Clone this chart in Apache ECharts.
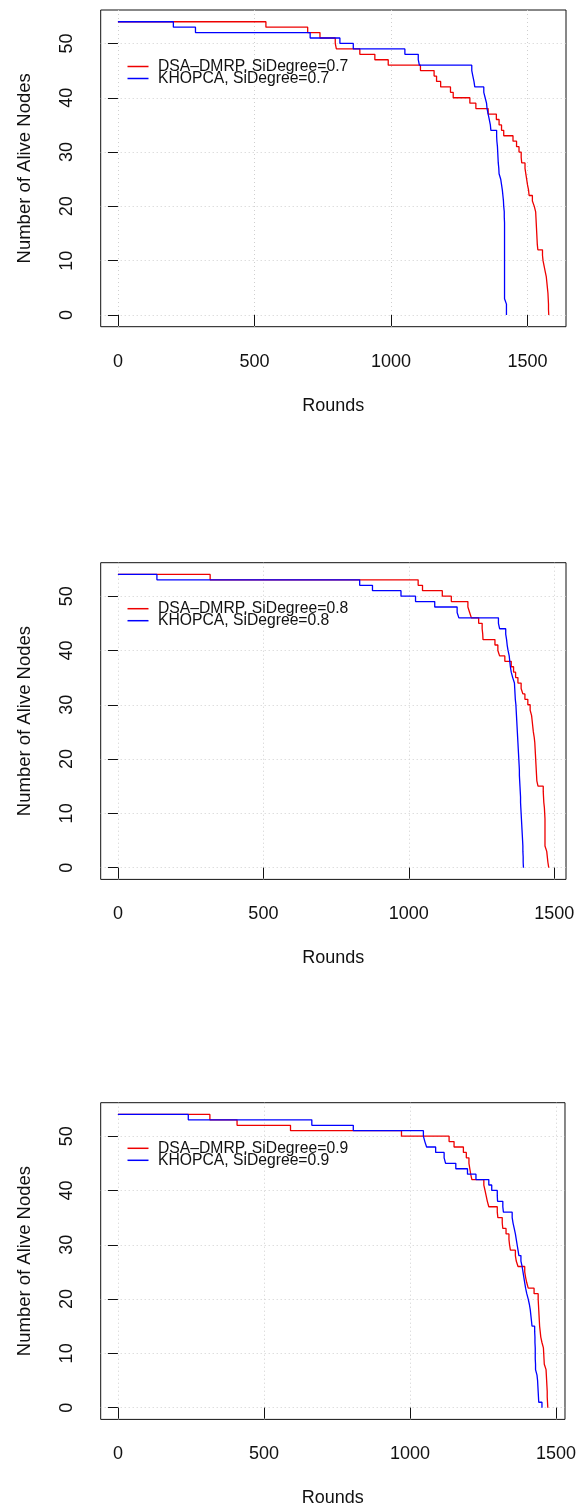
<!DOCTYPE html>
<html>
<head>
<meta charset="utf-8">
<script src="https://cdn.jsdelivr.net/npm/echarts@6/dist/echarts.min.js"></script>
<style>
html,body{margin:0;padding:0;background:#fff;}
#chart{width:579px;height:1510px;}
</style>
</head>
<body>
<div id="chart"></div>
<script>
// ---------- data: [round, number of alive nodes] ----------
const dsa07 = [[0,54],[542,53],[695,52],[740,51],[796,50],[800,49],[886,48],[941,47],[990,46],[1108,45],[1158,44],[1167,43],[1182,42],[1218,41],[1228,40],[1289,39],[1311,38],[1356,37],[1386,36],[1396,35],[1405,34],[1413,33],[1447,32],[1460,31],[1469,30],[1477,29],[1479,28],[1491,27],[1494,26],[1497,25],[1500,24],[1504,23],[1506,22],[1518,21],[1525,20],[1530,19],[1531,18],[1532,17],[1533,16],[1534,15],[1535,14],[1536,13],[1538,12],[1555,11],[1557,10],[1561,9],[1565,8],[1569,7],[1571,6],[1573,5],[1575,4],[1576,3],[1577,2],[1577,1],[1578,0]];
const khopca07 = [[0,54],[203,53],[284,52],[704,51],[813,50],[862,49],[1051,48],[1100,47],[1104,46],[1296,45],[1300,44],[1304,43],[1307,42],[1340,41],[1345,40],[1350,39],[1352,38],[1356,37],[1360,36],[1364,35],[1366,34],[1387,33],[1388,32],[1390,31],[1391,30],[1392,29],[1393,28],[1395,27],[1396,26],[1402,25],[1405,24],[1408,23],[1410,22],[1412,21],[1413,20],[1415,19],[1415,18],[1416,17],[1416,16],[1416,15],[1416,14],[1416,13],[1416,12],[1416,11],[1416,10],[1416,9],[1416,8],[1416,7],[1416,6],[1416,5],[1416,4],[1416,3],[1423,2],[1423,1],[1423,0]];

const dsa08 = [[0,54],[317,53],[1032,52],[1047,51],[1115,50],[1146,49],[1203,48],[1209,47],[1215,46],[1240,45],[1252,44],[1254,43],[1255,42],[1296,41],[1306,40],[1312,39],[1330,38],[1352,37],[1360,36],[1367,35],[1375,34],[1386,33],[1392,32],[1399,31],[1409,30],[1417,29],[1422,28],[1424,27],[1426,26],[1428,25],[1431,24],[1433,23],[1434,22],[1435,21],[1436,20],[1437,19],[1438,18],[1439,17],[1440,16],[1444,15],[1462,14],[1463,13],[1464,12],[1466,11],[1467,10],[1468,9],[1468,8],[1468,7],[1468,6],[1468,5],[1468,4],[1474,3],[1476,2],[1478,1],[1481,0]];
const khopca08 = [[0,54],[134,53],[831,52],[875,51],[973,50],[1023,49],[1089,48],[1166,47],[1172,46],[1308,45],[1312,44],[1333,43],[1336,42],[1338,41],[1341,40],[1345,39],[1347,38],[1349,37],[1352,36],[1357,35],[1363,34],[1364,33],[1365,32],[1366,31],[1368,30],[1369,29],[1370,28],[1371,27],[1372,26],[1373,25],[1374,24],[1375,23],[1376,22],[1377,21],[1378,20],[1379,19],[1380,18],[1380,17],[1381,16],[1382,15],[1383,14],[1384,13],[1384,12],[1385,11],[1386,10],[1387,9],[1388,8],[1389,7],[1390,6],[1391,5],[1392,4],[1392,3],[1393,2],[1393,1],[1394,0]];

const dsa09 = [[0,54],[315,53],[408,52],[591,51],[971,50],[1134,49],[1151,48],[1183,47],[1193,46],[1202,45],[1205,44],[1208,43],[1212,42],[1253,41],[1257,40],[1261,39],[1265,38],[1270,37],[1299,36],[1301,35],[1316,34],[1318,33],[1329,32],[1339,31],[1341,30],[1344,29],[1361,28],[1364,27],[1370,26],[1393,25],[1396,24],[1400,23],[1405,22],[1425,21],[1439,20],[1440,19],[1441,18],[1442,17],[1443,16],[1444,15],[1446,14],[1448,13],[1452,12],[1457,11],[1458,10],[1459,9],[1460,8],[1466,7],[1467,6],[1468,5],[1469,4],[1470,3],[1470,2],[1471,1],[1472,0]];
const khopca09 = [[0,54],[241,53],[664,52],[806,51],[1046,50],[1051,49],[1057,48],[1088,47],[1117,46],[1122,45],[1157,44],[1197,43],[1226,42],[1270,41],[1280,40],[1299,39],[1300,38],[1318,37],[1320,36],[1350,35],[1353,34],[1357,33],[1361,32],[1364,31],[1367,30],[1370,29],[1373,28],[1380,27],[1384,26],[1387,25],[1390,24],[1393,23],[1396,22],[1400,21],[1405,20],[1409,19],[1412,18],[1414,17],[1416,16],[1418,15],[1427,14],[1428,13],[1428,12],[1429,11],[1429,10],[1429,9],[1430,8],[1430,7],[1435,6],[1437,5],[1438,4],[1439,3],[1440,2],[1441,1],[1452,0]];

const xTicks = [0, 500, 1000, 1500];
const yTicks = [0, 10, 20, 30, 40, 50];
const panelNames = [
  ['DSA\u2013DMRP, SiDegree=0.7', 'KHOPCA, SiDegree=0.7'],
  ['DSA\u2013DMRP, SiDegree=0.8', 'KHOPCA, SiDegree=0.8'],
  ['DSA\u2013DMRP, SiDegree=0.9', 'KHOPCA, SiDegree=0.9']
];
const panelData = [[dsa07, khopca07], [dsa08, khopca08], [dsa09, khopca09]];
const xTitle = 'Rounds';
const yTitle = 'Number of Alive Nodes';

// ---------- layout ----------
const FONT = '"Liberation Sans", Arial, Helvetica, sans-serif';
const gridTops = [10, 562.7, 1102.7];
const legendTops = [58.5, 600.7, 1140.3];
const GRID_H = 316.7;

const grids = [], xAxes = [], yAxes = [], series = [], legends = [];
panelData.forEach((pair, i) => {
  const xmax = Math.max(...pair[0].map(d => d[0]), ...pair[1].map(d => d[0]));
  const ymax = 54;
  grids.push({left: 100.7, right: 13, top: gridTops[i], height: GRID_H,
    show: true, borderColor: '#111', borderWidth: 1, backgroundColor: 'transparent'});
  xAxes.push({
    gridIndex: i, type: 'value', min: -0.04 * xmax, max: 1.04 * xmax,
    axisLine: {show: false},
    axisTick: {show: true, length: 11, customValues: xTicks, lineStyle: {color: '#111', width: 1}},
    axisLabel: {customValues: xTicks, fontSize: 18, color: '#111', margin: 26, fontFamily: FONT,
      formatter: v => String(v)},
    splitLine: {show: true, lineStyle: {color: '#cfcfcf', width: 1, type: [1, 3]}},
    name: xTitle, nameLocation: 'middle', nameGap: 70,
    nameTextStyle: {fontSize: 18, color: '#111', fontFamily: FONT}
  });
  yAxes.push({
    gridIndex: i, type: 'value', min: -0.04 * ymax, max: 1.04 * ymax,
    axisLine: {show: false},
    axisTick: {show: true, length: 10, customValues: yTicks, lineStyle: {color: '#111', width: 1}},
    axisLabel: {customValues: yTicks, fontSize: 18, color: '#111', margin: 25, rotate: 90, fontFamily: FONT,
      formatter: v => String(v)},
    splitLine: {show: true, lineStyle: {color: '#cfcfcf', width: 1, type: [1, 3]}},
    name: yTitle, nameLocation: 'middle', nameGap: 66,
    nameTextStyle: {fontSize: 18.5, color: '#111', fontFamily: FONT}
  });
  const colors = ['#ee0000', '#0000ff'];
  pair.forEach((data, k) => {
    series.push({
      name: panelNames[i][k], type: 'line', step: 'end',
      xAxisIndex: i, yAxisIndex: i, data: data,
      symbol: 'none', showSymbol: false, animation: false,
      lineStyle: {color: colors[k], width: 1.3}, itemStyle: {color: colors[k]}
    });
  });
  legends.push({
    data: panelNames[i], orient: 'vertical', left: 127.5, top: legendTops[i], padding: 0,
    icon: 'rect', itemWidth: 21, itemHeight: 1.5, itemGap: -4,
    selectedMode: false,
    textStyle: {fontSize: 15.7, color: '#111', fontFamily: FONT, padding: [0, 0, 0, 4.5]}
  });
});

const chart = echarts.init(document.getElementById('chart'), null, {renderer: 'canvas'});
chart.setOption({
  animation: false,
  backgroundColor: '#fff',
  grid: grids, xAxis: xAxes, yAxis: yAxes, series: series, legend: legends
});
</script>
</body>
</html>
